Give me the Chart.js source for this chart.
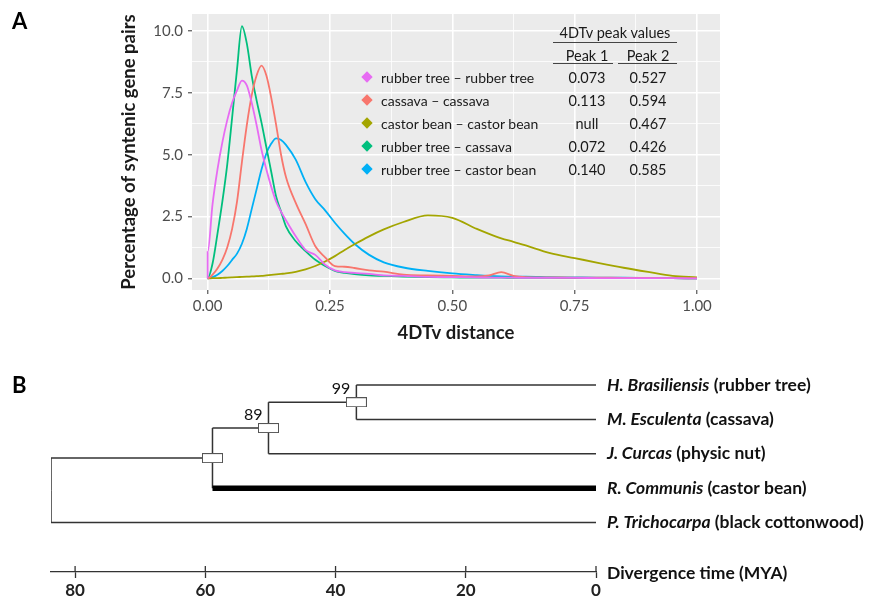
<!DOCTYPE html>
<html>
<head>
<meta charset="utf-8">
<script src="https://cdn.jsdelivr.net/npm/chart.js@4.4.0/dist/chart.umd.min.js"></script>
<style>
    body { margin: 0; background: #fff; width: 871px; height: 598px; overflow: hidden; position: relative; font-family: Lato, 'Open Sans', sans-serif; }
    canvas { position: absolute; left: 0; }
    #densityChart { top: 0; }
    #treeChart { top: 360px; }
    .txt { position: absolute; white-space: nowrap; color: #1a1a1a; transform: translateY(-50%); }
    .mark { position: absolute; width: 8px; height: 8px; transform: translate(-50%, -50%) rotate(45deg); }
    .rule { position: absolute; height: 0; border-top: 1.3px solid #444; }
</style>
</head>
<body>
<canvas id="densityChart" width="871" height="350"></canvas>
<canvas id="treeChart" width="871" height="238"></canvas>
<div id="overlay"></div>
<script>
// ---- panel A: 4DTv distributions ----
const distGrid = [0, 0, 0.01, 0.02, 0.03, 0.04, 0.05, 0.06, 0.07, 0.08, 0.09, 0.10, 0.11, 0.12, 0.13, 0.14, 0.15, 0.16,
    0.18, 0.20, 0.22, 0.24, 0.26, 0.28, 0.30, 0.33, 0.36, 0.40, 0.45, 0.50, 0.55, 0.575, 0.60, 0.625, 0.65,
    0.70, 0.75, 0.80, 0.85, 0.90, 0.95, 1.00];
const rubberRubber = [0, 1.06, 3.0, 4.4, 5.5, 6.4, 7.1, 7.6, 8.0, 7.8, 7.1, 6.2, 5.2, 4.4, 3.7, 3.1, 2.7, 2.35,
    1.7, 1.15, 0.95, 0.55, 0.32, 0.25, 0.22, 0.18, 0.12, 0.1, 0.06, 0.05, 0.04, 0.03, 0.03, 0.03, 0.02,
    0.02, 0.02, 0.01, 0.01, 0.01, 0.01, 0.0];
const cassavaCassava = [0, 0, 0.15, 0.4, 0.75, 1.25, 2.0, 3.1, 4.7, 6.2, 7.4, 8.2, 8.6, 8.2, 7.3, 6.2, 5.0, 4.1,
    3.05, 2.2, 1.3, 0.85, 0.5, 0.47, 0.42, 0.32, 0.27, 0.15, 0.12, 0.1, 0.08, 0.12, 0.25, 0.1, 0.05,
    0.04, 0.03, 0.03, 0.02, 0.02, 0.01, 0.0];
const castorCastor = [0, 0, 0.01, 0.01, 0.02, 0.03, 0.04, 0.05, 0.06, 0.07, 0.08, 0.09, 0.1, 0.12, 0.14, 0.16, 0.18, 0.2,
    0.26, 0.36, 0.5, 0.68, 0.9, 1.15, 1.38, 1.7, 1.98, 2.28, 2.55, 2.45, 2.0, 1.8, 1.62, 1.48, 1.33,
    1.02, 0.82, 0.62, 0.43, 0.26, 0.1, 0.04];
const rubberCassava = [0, 0, 0.6, 1.8, 3.1, 4.6, 6.5, 8.45, 10.2, 9.5, 8.2, 7.2, 6.3, 5.3, 4.3, 3.3, 2.7, 2.1,
    1.5, 1.1, 0.75, 0.5, 0.3, 0.22, 0.17, 0.12, 0.1, 0.07, 0.05, 0.04, 0.03, 0.03, 0.03, 0.02, 0.02,
    0.02, 0.01, 0.01, 0.01, 0.01, 0.01, 0.0];
const rubberCastor = [0, 0, 0.05, 0.15, 0.3, 0.5, 0.75, 1.0, 1.4, 2.0, 2.8, 3.6, 4.4, 5.05, 5.45, 5.66, 5.6, 5.4,
    4.8, 3.9, 3.2, 2.75, 2.25, 1.8, 1.4, 0.95, 0.65, 0.44, 0.3, 0.2, 0.13, 0.1, 0.08, 0.07, 0.07,
    0.05, 0.04, 0.03, 0.03, 0.02, 0.01, 0.0];

const seriesNames = ['rubber tree – rubber tree', 'cassava – cassava', 'castor bean – castor bean',
    'rubber tree – cassava', 'rubber tree – castor bean'];
const seriesValues = [rubberRubber, cassavaCassava, castorCastor, rubberCassava, rubberCastor];
const seriesColors = ['#E76BF3', '#F8766D', '#A3A500', '#00BF7D', '#00B0F6'];
const peak1 = ['0.073', '0.113', 'null', '0.072', '0.140'];
const peak2 = ['0.527', '0.594', '0.467', '0.426', '0.585'];

const xMajor = [0, 0.25, 0.5, 0.75, 1];
const xLabels = ['0.00', '0.25', '0.50', '0.75', '1.00'];
const yMajor = [0, 2.5, 5, 7.5, 10];
const yLabels = ['0.0', '2.5', '5.0', '7.5', '10.0'];

// ---- panel B: divergence tree ----
const leafGenus = ['H. Brasiliensis', 'M. Esculenta', 'J. Curcas', 'R. Communis', 'P. Trichocarpa'];
const leafCommon = ['(rubber tree)', '(cassava)', '(physic nut)', '(castor bean)', '(black cottonwood)'];
const leafRows = [0, 1, 2, 3, 4];
const nodeTimes = [36.8, 50.3, 58.9, 83.7];    // MYA
const nodeRows = [0.5, 1.25, 2.125, 3.0625];
const nodeSupport = ['99', '89', '', ''];
const edgeParents = [3, 3, 2, 2, 1, 1, 0, 0];
const edgeChildren = ['N2', 'L4', 'N1', 'L3', 'N0', 'L2', 'L0', 'L1'];
const highlightLeaf = 3;
const timeTicks = [80, 60, 40, 20, 0];

Chart.defaults.font.family = "Lato, 'Open Sans', sans-serif";

function withMinors(majors) {
    const out = [];
    majors.forEach((v, i) => {
        out.push(v);
        if (i < majors.length - 1) out.push((v + majors[i + 1]) / 2);
    });
    return out;
}

const panelBg = {
    id: 'panelBg',
    beforeDraw(chart) {
        const { ctx, chartArea: a } = chart;
        ctx.save();
        ctx.fillStyle = '#EBEBEB';
        ctx.fillRect(a.left, a.top, a.right - a.left, a.bottom - a.top);
        ctx.restore();
    }
};

function gridOpts(majors) {
    return {
        color: '#ffffff',
        lineWidth: c => majors.includes(c.tick.value) ? 1.6 : 0.8,
        tickColor: c => majors.includes(c.tick.value) ? '#333333' : 'rgba(0,0,0,0)',
        tickLength: 4,
        tickWidth: 1
    };
}

new Chart(document.getElementById('densityChart'), {
    type: 'line',
    data: {
        datasets: seriesNames.map((name, i) => ({
            label: name,
            data: distGrid.map((x, k) => ({ x: x, y: seriesValues[i][k] })),
            borderColor: seriesColors[i],
            borderWidth: 1.8,
            pointRadius: 0,
            cubicInterpolationMode: 'monotone',
            fill: false
        }))
    },
    options: {
        responsive: false,
        animation: false,
        layout: { autoPadding: false, padding: { left: 118, right: 151, top: 11, bottom: 0 } },
        plugins: { legend: { display: false }, tooltip: { enabled: false } },
        scales: {
            x: {
                type: 'linear',
                min: -0.032,
                max: 1.047,
                afterBuildTicks: s => { s.ticks = withMinors(xMajor).map(v => ({ value: v })); },
                afterFit: s => { s.height = 60; },
                border: { display: false },
                grid: gridOpts(xMajor),
                ticks: {
                    autoSkip: false, maxRotation: 0, padding: 3,
                    color: '#4d4d4d', font: { size: 15 },
                    callback: v => { const i = xMajor.indexOf(v); return i >= 0 ? xLabels[i] : ''; }
                },
                title: {
                    display: true, text: '4DTv distance', color: '#1a1a1a',
                    font: { size: 18.5, weight: 'bold' }, padding: { top: 0, bottom: 6 }
                }
            },
            y: {
                type: 'linear',
                min: -0.47,
                max: 10.69,
                afterBuildTicks: s => { s.ticks = withMinors(yMajor).map(v => ({ value: v })); },
                afterFit: s => { s.width = 74; },
                border: { display: false },
                grid: gridOpts(yMajor),
                ticks: {
                    autoSkip: false, padding: 5,
                    color: '#4d4d4d', font: { size: 15 },
                    callback: v => { const i = yMajor.indexOf(v); return i >= 0 ? yLabels[i] : ''; }
                },
                title: {
                    display: true, text: 'Percentage of syntenic gene pairs', color: '#1a1a1a',
                    font: { size: 18.5, weight: 'bold' }, padding: { top: 0, bottom: 0 }
                }
            }
        }
    },
    plugins: [panelBg]
});

// legend + peak table inside panel A
const overlay = document.getElementById('overlay');
function addText(text, left, top, css) {
    const d = document.createElement('div');
    d.className = 'txt';
    d.textContent = text;
    d.style.left = left + 'px';
    d.style.top = top + 'px';
    Object.assign(d.style, css || {});
    overlay.appendChild(d);
    return d;
}
function addRule(left, top, width) {
    const d = document.createElement('div');
    d.className = 'rule';
    d.style.left = left + 'px';
    d.style.top = top + 'px';
    d.style.width = width + 'px';
    overlay.appendChild(d);
}
const rowTop = 77.3, rowStep = 22.8;
const markX = 367, nameX = 381, col1X = 587, col2X = 648;
const centered = { transform: 'translate(-50%, -50%)', fontSize: '14.5px' };
addText('4DTv peak values', 615, 31.5, centered);
addRule(553, 42, 124);
addText('Peak 1', col1X, 54.5, centered);
addText('Peak 2', col2X, 54.5, centered);
addRule(553, 63, 60);
addRule(618, 63, 59);
seriesNames.forEach((name, i) => {
    const y = rowTop + i * rowStep;
    const m = document.createElement('div');
    m.className = 'mark';
    m.style.left = markX + 'px';
    m.style.top = y + 'px';
    m.style.background = seriesColors[i];
    overlay.appendChild(m);
    addText(name, nameX, y, { fontSize: '14px' });
    addText(peak1[i], col1X, y, centered);
    addText(peak2[i], col2X, y, centered);
});
addText('A', 12, 20, { fontSize: '22px', fontWeight: 'bold', color: '#000' });
addText('B', 12, 384, { fontSize: '22px', fontWeight: 'bold', color: '#000' });

// ---- panel B chart ----
function pos(ref) {
    const i = parseInt(ref.slice(1), 10);
    return ref[0] === 'L' ? { t: 0, r: leafRows[i] } : { t: nodeTimes[i], r: nodeRows[i] };
}
const treeSets = [];
const boxImg = document.createElement('canvas');
boxImg.width = 21; boxImg.height = 10;
(function () {
    const c = boxImg.getContext('2d');
    c.fillStyle = '#fff';
    c.fillRect(0, 0, 21, 10);
    c.strokeStyle = '#555';
    c.lineWidth = 1;
    c.strokeRect(0.5, 0.5, 20, 9);
})();
treeSets.push({
    type: 'scatter',
    data: nodeTimes.slice(0, 3).map((t, i) => ({ x: t, y: nodeRows[i] })),
    pointStyle: boxImg,
    pointRadius: 10,
    order: 0
});
edgeParents.forEach((p, k) => {
    const child = pos(edgeChildren[k]);
    const tp = nodeTimes[p], rp = nodeRows[p];
    treeSets.push({
        data: [{ x: tp, y: rp }, { x: tp, y: child.r }],
        borderColor: '#333', borderWidth: 1.5, pointRadius: 0, order: 2
    });
    const thick = edgeChildren[k] === 'L' + highlightLeaf;
    treeSets.push({
        data: [{ x: tp, y: child.r }, { x: child.t, y: child.r }],
        borderColor: thick ? '#000' : '#333', borderWidth: thick ? 5.5 : 1.5,
        pointRadius: 0, order: 1, borderCapStyle: 'butt'
    });
});

const treeText = {
    id: 'treeText',
    afterDraw(chart) {
        const { ctx, chartArea: a, scales: { x, y } } = chart;
        ctx.save();
        // upward half of the time-axis ticks
        ctx.strokeStyle = '#333';
        ctx.lineWidth = 1.3;
        timeTicks.forEach(v => {
            const px = x.getPixelForValue(v);
            ctx.beginPath();
            ctx.moveTo(px, a.bottom - 6);
            ctx.lineTo(px, a.bottom);
            ctx.stroke();
        });
        ctx.fillStyle = '#111';
        ctx.textBaseline = 'middle';
        const x0 = x.getPixelForValue(0) + 11;
        leafRows.forEach((r, i) => {
            const py = y.getPixelForValue(r);
            ctx.font = "italic bold 17.5px Lato, 'Open Sans', sans-serif";
            ctx.fillText(leafGenus[i], x0, py);
            const w = ctx.measureText(leafGenus[i]).width;
            ctx.font = "bold 17.5px Lato, 'Open Sans', sans-serif";
            ctx.fillText(' ' + leafCommon[i], x0 + w, py);
        });
        ctx.fillText('Divergence time (MYA)', x0, a.bottom + 1);
        ctx.font = "16px Lato, 'Open Sans', sans-serif";
        ctx.textAlign = 'right';
        nodeSupport.forEach((s, i) => {
            if (!s) return;
            ctx.fillText(s, x.getPixelForValue(nodeTimes[i]) - 6, y.getPixelForValue(nodeRows[i]) - 13);
        });
        ctx.restore();
    }
};

new Chart(document.getElementById('treeChart'), {
    type: 'line',
    data: { datasets: treeSets },
    options: {
        responsive: false,
        animation: false,
        layout: { autoPadding: false, padding: { left: 51, right: 275, top: 0, bottom: 0 } },
        plugins: { legend: { display: false }, tooltip: { enabled: false } },
        scales: {
            x: {
                type: 'linear',
                reverse: true,
                min: 0,
                max: 83.7,
                afterBuildTicks: s => { s.ticks = timeTicks.map(v => ({ value: v })); },
                afterFit: s => { s.height = 26; },
                border: { display: true, color: '#333', width: 1.3 },
                grid: { drawOnChartArea: false, drawTicks: true, tickLength: 6, tickColor: '#333', tickWidth: 1.3 },
                ticks: { autoSkip: false, maxRotation: 0, padding: 2, color: '#222', font: { size: 17, weight: 'bold' } }
            },
            y: {
                type: 'linear',
                reverse: true,
                min: -0.727,
                max: 5.436,
                display: false
            }
        }
    },
    plugins: [treeText]
});
</script>
</body>
</html>
